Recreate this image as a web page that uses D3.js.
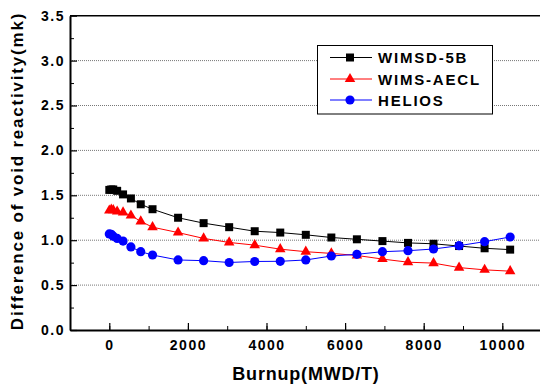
<!DOCTYPE html>
<html>
<head>
<meta charset="utf-8">
<script src="https://cdn.jsdelivr.net/npm/d3@7.9.0/dist/d3.min.js"></script>
<style>
  body { margin: 0; background: #fff; }
  svg { display: block; font-family: "Liberation Sans", Arial, sans-serif; font-weight: bold; }
</style>
</head>
<body>
<div id="chart"></div>
<script>
// burnup steps (MWD/T)
const burnup = [0, 50, 100, 200, 350, 550, 800, 1100, 1750, 2400, 3050, 3700,
  4350, 5000, 5650, 6300, 6950, 7600, 8250, 8900, 9550, 10200];

const wimsd = [1.56, 1.565, 1.565, 1.55, 1.51, 1.465, 1.40, 1.345, 1.25, 1.19, 1.145, 1.10,
  1.085, 1.06, 1.03, 1.01, 0.99, 0.97, 0.96, 0.935, 0.91, 0.895];
const wimsAecl = [1.33, 1.34, 1.335, 1.32, 1.31, 1.275, 1.21, 1.145, 1.085, 1.02, 0.975, 0.945,
  0.90, 0.872, 0.853, 0.83, 0.79, 0.755, 0.745, 0.695, 0.67, 0.655];
const helios = [1.07, 1.065, 1.045, 1.02, 0.99, 0.925, 0.872, 0.835, 0.78, 0.772, 0.752, 0.763,
  0.765, 0.78, 0.824, 0.843, 0.872, 0.883, 0.902, 0.939, 0.984, 1.036];

const seriesNames = ['WIMSD-5B', 'WIMS-AECL', 'HELIOS'];
const seriesColors = ['#000000', '#ff0000', '#0000ff'];

const xTicks = [0, 2000, 4000, 6000, 8000, 10000];
const yTicks = [0, 0.5, 1.0, 1.5, 2.0, 2.5, 3.0, 3.5];

const width = 540, height = 385;
const margin = { top: 15.7, left: 70, bottom: 330, right: 541.6 };

const svg = d3.select('#chart').append('svg')
  .attr('width', width).attr('height', height);

const x = d3.scaleLinear().domain([-1000, 11000]).range([margin.left, margin.right]);
const y = d3.scaleLinear().domain([0, 3.5]).range([margin.bottom, margin.top]);

// gridlines (dotted)
svg.append('g')
  .selectAll('line')
  .data(yTicks.filter(d => d > 0 && d < 3.5))
  .join('line')
  .attr('x1', margin.left).attr('x2', margin.right)
  .attr('y1', d => y(d)).attr('y2', d => y(d))
  .attr('stroke', '#777').attr('stroke-width', 1)
  .attr('stroke-dasharray', '1,1');

// frame top/right
svg.append('path')
  .attr('d', `M${margin.left},${margin.top}H${margin.right}V${margin.bottom}`)
  .attr('fill', 'none').attr('stroke', '#000').attr('stroke-width', 1.5);

// minor ticks
svg.append('g')
  .attr('transform', `translate(0,${margin.bottom})`)
  .call(d3.axisBottom(x).tickValues(d3.range(-1000, 11001, 1000)).tickSize(-4).tickSizeOuter(0).tickFormat(''))
  .call(g => g.select('.domain').remove());
svg.append('g')
  .attr('transform', `translate(${margin.left},0)`)
  .call(d3.axisLeft(y).tickValues(d3.range(0.25, 3.5, 0.5)).tickSize(-4).tickSizeOuter(0).tickFormat(''))
  .call(g => g.select('.domain').remove());

// X axis
const xAxis = svg.append('g')
  .attr('transform', `translate(0,${margin.bottom})`)
  .call(d3.axisBottom(x).tickValues(xTicks).tickSize(-7).tickSizeOuter(0).tickPadding(10)
    .tickFormat(d3.format('d')));

// Y axis
const yAxis = svg.append('g')
  .attr('transform', `translate(${margin.left},0)`)
  .call(d3.axisLeft(y).tickValues(yTicks).tickSize(-7).tickSizeOuter(0).tickPadding(5)
    .tickFormat(d3.format('.1f')));

[xAxis, yAxis].forEach(g => {
  g.select('.domain').attr('stroke-width', 2);
  g.selectAll('.tick line').attr('stroke-width', 1.2);
  g.selectAll('text')
    .attr('font-family', '"Liberation Sans", Arial, sans-serif')
    .attr('font-weight', 'bold')
    .attr('font-size', 14)
    .attr('letter-spacing', 1.5)
    .attr('fill', '#000');
});
svg.selectAll('.tick line').attr('stroke', '#000');

// series
const series = [wimsd, wimsAecl, helios].map((vals, i) => ({
  name: seriesNames[i],
  color: seriesColors[i],
  symbol: [d3.symbolSquare, d3.symbolTriangle, d3.symbolCircle][i],
  size: [64, 48, 66][i],
  points: vals.map((v, j) => ({ x: burnup[j], y: v }))
}));

const line = d3.line().x(d => x(d.x)).y(d => y(d.y));

series.forEach(s => {
  svg.append('path')
    .datum(s.points)
    .attr('d', line)
    .attr('fill', 'none')
    .attr('stroke', s.color)
    .attr('stroke-width', 1);
  svg.append('g')
    .selectAll('path')
    .data(s.points)
    .join('path')
    .attr('transform', d => `translate(${x(d.x)},${y(d.y)})`)
    .attr('d', d3.symbol(s.symbol, s.size))
    .attr('fill', s.color);
});

// legend
const legend = svg.append('g');
legend.append('rect')
  .attr('x', 317.5).attr('y', 45.5).attr('width', 175).attr('height', 68.5)
  .attr('fill', '#fff').attr('stroke', '#000').attr('stroke-width', 1);

const rowY = [57.5, 79, 100];
series.forEach((s, i) => {
  const g = legend.append('g').attr('transform', `translate(0,${rowY[i]})`);
  g.append('line').attr('x1', 330).attr('x2', 372)
    .attr('stroke', s.color).attr('stroke-width', 1);
  g.append('path').attr('transform', 'translate(350,0)')
    .attr('d', d3.symbol(s.symbol, s.size)).attr('fill', s.color);
  g.append('text').attr('x', 378).attr('y', 5.5)
    .attr('font-size', 15).attr('letter-spacing', 1.8)
    .text(s.name);
});

// axis titles
svg.append('text')
  .attr('x', 306).attr('y', 380)
  .attr('text-anchor', 'middle')
  .attr('font-size', 18).attr('letter-spacing', 0.8)
  .text('Burnup(MWD/T)');

svg.append('text')
  .attr('transform', 'translate(23,171) rotate(-90)')
  .attr('text-anchor', 'middle')
  .attr('font-size', 17).attr('letter-spacing', 1.8)
  .text('Difference of void reactivity(mk)');
</script>
</body>
</html>
